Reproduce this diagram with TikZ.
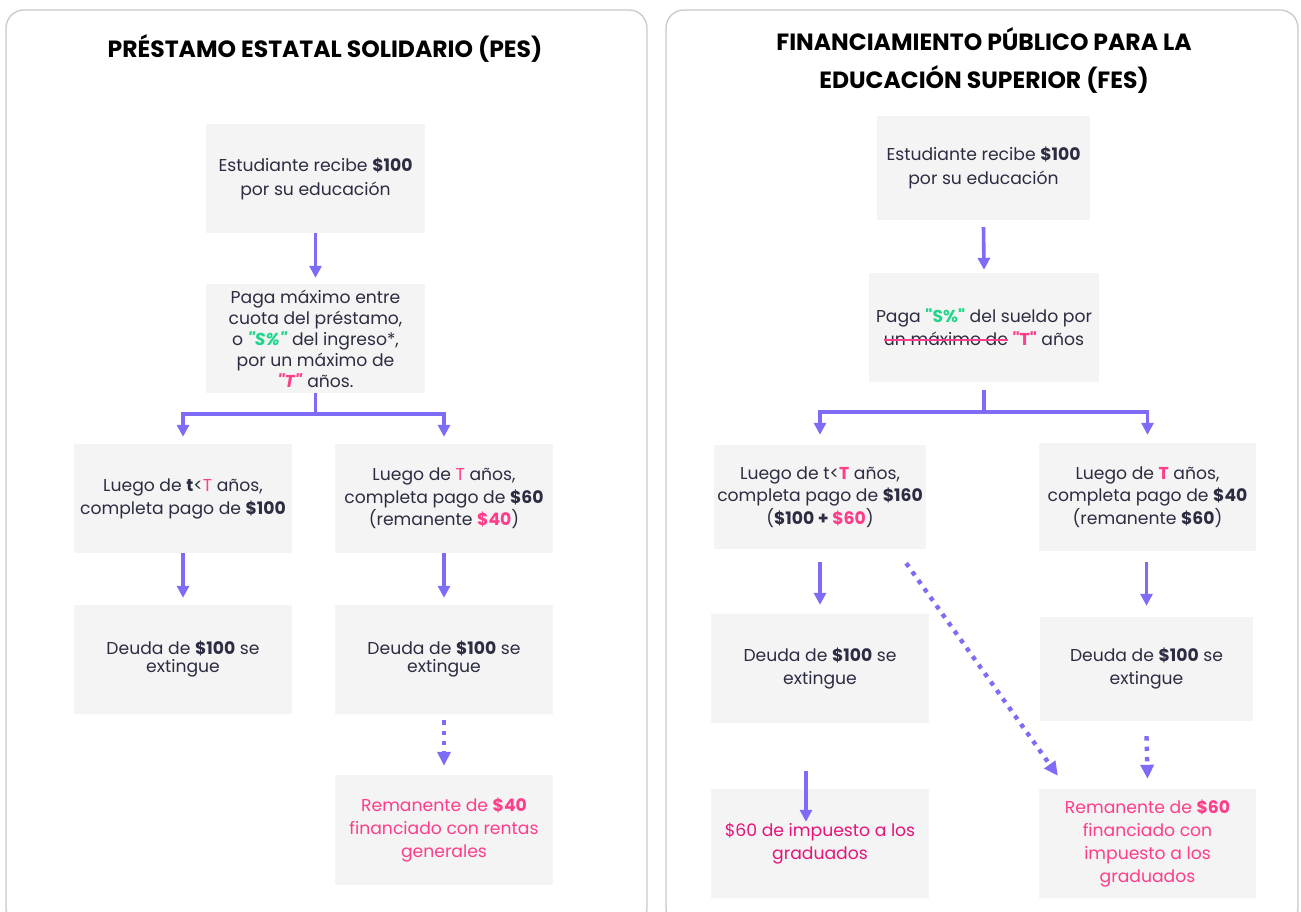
\documentclass[tikz,border=0pt]{standalone}
\usepackage{fontspec}
\setmainfont{Poppins}[Ligatures=TeXOff]
\usetikzlibrary{arrows.meta}
\definecolor{arrowc}{HTML}{7F6CF6}
\definecolor{boxc}{HTML}{F4F4F4}
\definecolor{textc}{HTML}{2C2C42}
\definecolor{pinkc}{HTML}{FF3D8B}
\definecolor{deepc}{HTML}{E6137B}
\definecolor{greenc}{HTML}{20D68A}
\definecolor{panelc}{HTML}{C9C9C9}
\newcommand\strk[1]{\setbox0\hbox{#1}\copy0\llap{\textcolor{pinkc}{\rule[0.28em]{\wd0}{1.6pt}}}}
\newcommand\pk[1]{\textcolor{pinkc}{#1}}
\newcommand\gr[1]{\textcolor{greenc}{#1}}
\tikzset{
  panel/.style={draw=panelc, line width=1.3pt, rounded corners=18pt, fill=white},
  title/.style={font=\fontsize{23.5}{38}\selectfont\bfseries, text=black, align=center, inner sep=0pt},
  box/.style={fill=boxc, inner sep=0pt, align=center, text=textc},
  lh/.style={font=\fontsize{17.2}{#1}\selectfont},
  arr/.style={draw=arrowc, line width=3.6pt, -{Triangle[width=12pt,length=12pt]}},
  dotarr/.style={draw=arrowc, line width=4.4pt, dash pattern=on 4.4pt off 6pt, -{Triangle[width=13pt,length=14pt]}},
}
\begin{document}
\begin{tikzpicture}[x=1pt,y=-1pt]
\useasboundingbox (0,0) rectangle (1301,912);
\clip (0,0) rectangle (1301,912);
\draw[panel] (6,10) rectangle (647,926);
\draw[panel] (666,10) rectangle (1298,926);
% titles
\node[title] (t1) at (325,48) {PRÉSTAMO ESTATAL SOLIDARIO (PES)};
\node[title] (t2) at (984,60) {FINANCIAMIENTO PÚBLICO PARA LA\\EDUCACIÓN SUPERIOR (FES)};
% left boxes
\node[box, lh=24, minimum width=219, minimum height=109] (B1) at (315.5,178.5)
  {Estudiante recibe \textbf{\$100}\\por su educación};
\node[box, lh=21, minimum width=219, minimum height=109] (B2) at (315.5,338.5)
  {Paga máximo entre\\cuota del préstamo,\\o \gr{\textbf{\textit{"S\%"}}} del ingreso*,\\por un máximo de\\\pk{\textbf{\textit{"T"}}} años.};
\node[box, lh=23, minimum width=218, minimum height=109] (B3) at (183,498.5)
  {Luego de \textbf{t}<\pk{T} años,\\completa pago de \textbf{\$100}};
\node[box, lh=22.5, minimum width=218, minimum height=109] (B4) at (444,498.5)
  {Luego de \pk{T} años,\\completa pago de \textbf{\$60}\\(remanente \pk{\textbf{\$40}})};
\node[box, lh=18, minimum width=218, minimum height=109] (B5) at (183,659.5)
  {Deuda de \textbf{\$100} se\\extingue};
\node[box, lh=18, minimum width=218, minimum height=109] (B6) at (444,659.5)
  {Deuda de \textbf{\$100} se\\extingue};
\node[box, lh=23, minimum width=218, minimum height=110, text=pinkc] (B7) at (444,830)
  {Remanente de \textbf{\$40}\\financiado con rentas\\generales};
% left connectors
\draw[arr] (B1.south) -- ([yshift=6pt]B2.north);
\draw[arr] (B2.south) -- ++(0,21) -| ([yshift=7pt]B3.north);
\draw[arr] (B2.south) -- ++(0,21) -| ([yshift=7pt]B4.north);
\draw[arr] (B3.south) -- ([yshift=7pt]B5.north);
\draw[arr] (B4.south) -- ([yshift=7pt]B6.north);
\draw[dotarr] ([yshift=-6pt]B6.south) -- ([yshift=9pt]B7.north);
% right boxes
\node[box, lh=24, minimum width=213, minimum height=104] (R1) at (983.5,168)
  {Estudiante recibe \textbf{\$100}\\por su educación};
\node[box, lh=23, minimum width=230, minimum height=109] (R2) at (984,327.5)
  {Paga \gr{\textbf{"S\%"}} del sueldo por\\\strk{un máximo de} \pk{\textbf{"T"}} años};
\node[box, lh=22.5, minimum width=212, minimum height=104] (R3) at (820,497)
  {Luego de t<\pk{\textbf{T}} años,\\completa pago de \textbf{\$160}\\(\textbf{\$100 + }\pk{\textbf{\$60}})};
\node[box, lh=22.5, minimum width=217, minimum height=108] (R4) at (1147.5,497)
  {Luego de \pk{\textbf{T}} años,\\completa pago de \textbf{\$40}\\(remanente \textbf{\$60})};
\node[box, lh=23, minimum width=218, minimum height=109] (R5) at (820,668.5)
  {Deuda de \textbf{\$100} se\\extingue};
\node[box, lh=23, minimum width=213, minimum height=104] (R6) at (1146.5,669)
  {Deuda de \textbf{\$100} se\\extingue};
\node[box, lh=23, minimum width=218, minimum height=109, text=deepc] (R7) at (820,843.5)
  {\$60 de impuesto a los\\graduados};
\node[box, lh=23, minimum width=217, minimum height=109, text=pinkc] (R8) at (1147.5,843.5)
  {Remanente de \textbf{\$60}\\financiado con\\impuesto a los\\graduados};
% right connectors
\coordinate (dgs) at ([xshift=-20pt,yshift=-14pt]R3.south east);
\coordinate (dge) at ([xshift=19pt,yshift=13pt]R8.north west);
\draw[arr] ([yshift=-7pt]R1.south) -- ([yshift=3pt]R2.north);
\draw[arr] ([yshift=-8pt]R2.south) -- ++(0,22) -| ([yshift=10pt]R3.north);
\draw[arr] ([yshift=-8pt]R2.south) -- ++(0,22) -| ([yshift=8pt]R4.north);
\draw[arr] ([yshift=-13pt]R3.south) -- ([yshift=9pt]R5.north);
\draw[arr] ([yshift=-11pt]R4.south -| R6.south) -- ([yshift=11pt]R6.north);
\draw[dotarr] (dgs) -- (dge);
\draw[dotarr] ([yshift=-15pt]R6.south) -- ([yshift=10pt]R8.north);
\draw[arr] ([xshift=-14pt,yshift=-48pt]R5.south) -- ([xshift=-14pt,yshift=-33pt]R7.north);
\end{tikzpicture}
\end{document}
